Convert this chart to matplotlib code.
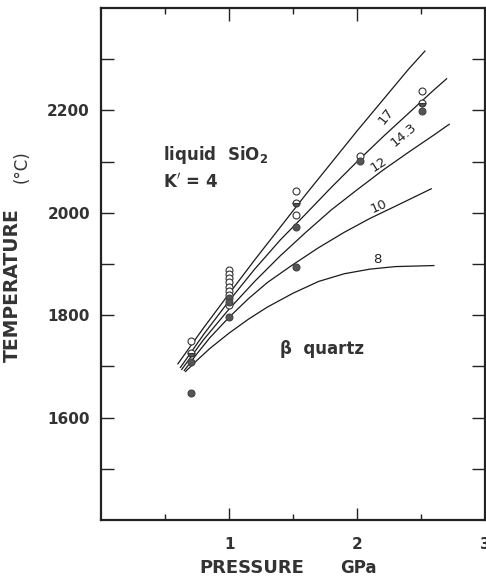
import matplotlib
matplotlib.use('Agg')
import matplotlib.pyplot as plt
from matplotlib.ticker import FixedLocator

# melting curves of SiO2 for different K0 values (pressure GPa, temperature C)
p_17 = [0.60, 0.80, 1.00, 1.20, 1.40, 1.60, 1.80, 2.00, 2.20, 2.40, 2.53]
t_17 = [1705, 1775, 1842, 1908, 1972, 2036, 2098, 2160, 2220, 2280, 2316]
p_143 = [0.62, 0.80, 1.00, 1.20, 1.40, 1.60, 1.80, 2.00, 2.20, 2.40, 2.60, 2.70]
t_143 = [1698, 1762, 1828, 1890, 1947, 1998, 2050, 2100, 2148, 2194, 2240, 2262]
p_12 = [0.63, 0.80, 1.00, 1.20, 1.40, 1.60, 1.80, 2.00, 2.20, 2.40, 2.60, 2.72]
t_12 = [1694, 1752, 1812, 1866, 1916, 1962, 2006, 2045, 2083, 2118, 2152, 2173]
p_10 = [0.65, 0.75, 0.85, 1.00, 1.15, 1.30, 1.50, 1.70, 1.90, 2.10, 2.30, 2.58]
t_10 = [1692, 1725, 1756, 1796, 1832, 1864, 1899, 1932, 1962, 1989, 2013, 2047]
p_8 = [0.66, 0.75, 0.85, 1.00, 1.15, 1.30, 1.50, 1.70, 1.90, 2.10, 2.30, 2.60]
t_8 = [1690, 1712, 1735, 1765, 1792, 1816, 1843, 1866, 1881, 1890, 1895, 1897]

curves = [(p_17, t_17), (p_143, t_143), (p_12, t_12), (p_10, t_10), (p_8, t_8)]

# curve labels: text, pressure, temperature, rotation
curve_labels = ['17', '14.3', '12', '10', '8']
label_p = [2.23, 2.36, 2.17, 2.17, 2.16]
label_t = [2188, 2152, 2094, 2013, 1908]
label_rot = [52, 40, 33, 24, 0]

# experiments: open = liquid, filled = quartz, half = partial
open_p = [0.70, 1.00, 1.00, 1.00, 1.00, 1.00, 1.00, 1.00, 1.00,
          1.52, 1.52, 2.02, 2.51]
open_t = [1750, 1889, 1880, 1872, 1864, 1856, 1848, 1840, 1819,
          2043, 1995, 2111, 2239]
half_p = [0.70, 1.52, 2.51]
half_t = [1727, 2019, 2214]
filled_p = [0.70, 0.70, 1.00, 1.00, 1.00, 1.52, 1.52, 2.02, 2.51]
filled_t = [1708, 1648, 1834, 1826, 1797, 1972, 1894, 2101, 2198]

plt.rcParams['font.family'] = ['DejaVu Sans']

fig = plt.figure(figsize=(4.86, 5.79), dpi=100)
ax = fig.add_axes([0.208, 0.102, 0.790, 0.884])

for p, t in curves:
    ax.plot(p, t, color='#1a1a1a', lw=0.9)

for txt, x, y, r in zip(curve_labels, label_p, label_t, label_rot):
    ax.text(x, y, txt, fontsize=9.5, rotation=r, ha='center', va='center',
            color='#222222', rotation_mode='anchor')

ax.plot(open_p, open_t, 'o', ms=5, mfc='white', mec='#333333', mew=0.8, ls='none')
ax.plot(half_p, half_t, 'o', ms=5, mfc='#555555', mec='#333333', mew=0.8,
        fillstyle='bottom', markerfacecoloralt='white', ls='none')
ax.plot(filled_p, filled_t, 'o', ms=5, mfc='#555555', mec='#444444', mew=0.8, ls='none')

ax.text(0.48, 2113, 'liquid  SiO$_\\mathbf{2}$', fontsize=12, fontweight='bold',
        color='#333333', va='center')
ax.text(0.48, 2060, "K$'$ = 4", fontsize=12, fontweight='bold', color='#333333', va='center')
ax.text(1.40, 1734, 'β  quartz', fontsize=12, fontweight='bold', color='#333333', va='center')

ax.set_xlim(0, 3)
ax.set_ylim(1400, 2400)
ax.xaxis.set_major_locator(FixedLocator([1, 2, 3]))
ax.xaxis.set_minor_locator(FixedLocator([0.5, 1.5, 2.5]))
ax.yaxis.set_major_locator(FixedLocator([1600, 1800, 2000, 2200]))
ax.yaxis.set_minor_locator(FixedLocator([1500, 1700, 1900, 2100, 2300]))

ax.tick_params(axis='both', which='both', direction='in', top=True, right=True,
               color='#222222', width=1.0)
ax.tick_params(axis='y', which='both', length=9.5, pad=8)
ax.tick_params(axis='x', which='major', length=9, pad=12)
ax.tick_params(axis='x', which='minor', length=4)
for lab in ax.get_xticklabels() + ax.get_yticklabels():
    lab.set_fontsize(11)
    lab.set_fontweight('bold')
    lab.set_color('#333333')

for s in ax.spines.values():
    s.set_linewidth(1.6)
    s.set_color('#222222')

ax.set_ylabel('TEMPERATURE', fontsize=13.5, fontweight='bold', color='#333333')
ax.yaxis.set_label_coords(-0.206, 0.459)
ax.text(-0.206, 0.691, '(°C)', transform=ax.transAxes, rotation=90, fontsize=12,
        ha='center', va='center', color='#333333')
ax.text(0.393, -0.094, 'PRESSURE', transform=ax.transAxes, fontsize=13,
        fontweight='bold', ha='center', va='center', color='#333333')
ax.text(0.669, -0.094, 'GPa', transform=ax.transAxes, fontsize=12,
        fontweight='bold', ha='center', va='center', color='#333333')

fig.savefig('out.png', dpi=100)
